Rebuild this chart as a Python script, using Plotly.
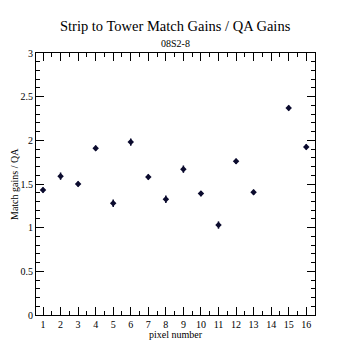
import plotly.graph_objects as go

pixels = [1, 2, 3, 4, 5, 6, 7, 8, 9, 10, 11, 12, 13, 15, 16]
ratio = [1.43, 1.59, 1.50, 1.91, 1.28, 1.98, 1.58, 1.325, 1.67, 1.39, 1.03, 1.76, 1.405, 2.37, 1.925]
errors = [0.03, 0.042, 0.03, 0.03, 0.042, 0.042, 0.03, 0.042, 0.042, 0.03, 0.042, 0.03, 0.03, 0.03, 0.03]
x_ticks = list(range(1, 17))
y_ticks = [0, 0.5, 1, 1.5, 2, 2.5, 3]
y_labels = ["0", "0.5", "1", "1.5", "2", "2.5", "3"]

FONT = "Liberation Serif"
COL = "#0b0b2e"

fig = go.Figure()
fig.add_trace(go.Scatter(
    x=pixels, y=ratio, mode="markers",
    marker=dict(symbol="diamond", size=5, color=COL),
    error_y=dict(type="data", array=errors, visible=True, color=COL, thickness=1.5, width=0),
    showlegend=False,
))

fig.update_layout(
    width=350, height=350,
    margin=dict(l=36, r=35, t=53, b=35),
    paper_bgcolor="white", plot_bgcolor="white",
    font=dict(family=FONT, color="black", size=10),
    xaxis=dict(
        range=[0.6, 16.5], tickvals=x_ticks, ticktext=[str(v) for v in x_ticks],
        ticks="inside", ticklen=8, tickwidth=1, tickcolor="black",
        showline=True, linecolor="black", linewidth=1, mirror="allticks",
        showgrid=False, zeroline=False,
        minor=dict(dtick=0.5, tick0=0.5, ticklen=4, ticks="inside", tickcolor="black", showgrid=False),
        tickfont=dict(size=10, family=FONT),
    ),
    yaxis=dict(
        range=[0, 3], tickvals=y_ticks, ticktext=y_labels,
        ticks="inside", ticklen=8, tickwidth=1, tickcolor="black",
        showline=True, linecolor="black", linewidth=1, mirror="allticks",
        showgrid=False, zeroline=False,
        minor=dict(dtick=0.1, tick0=0, ticklen=4, ticks="inside", tickcolor="black", showgrid=False),
        tickfont=dict(size=10, family=FONT),
    ),
    annotations=[
        dict(text="Strip to Tower Match Gains / QA Gains", x=0.5, y=25, xref="paper", yref="paper",
             showarrow=False, font=dict(size=14.5, family=FONT)),
        dict(text="08S2-8", x=0.5, y=0, xref="paper", yref="paper", showarrow=False,
             font=dict(size=10, family=FONT)),
        dict(text="pixel number", x=0.5, y=0, xref="paper", yref="paper", showarrow=False,
             font=dict(size=10, family=FONT)),
        dict(text="Match gains / QA", x=0, y=0.5, xref="paper", yref="paper", showarrow=False,
             textangle=-90, font=dict(size=10, family=FONT)),
    ],
)

# position annotations in pixel terms relative to plot area
ph = 350 - 53 - 35
pw = 350 - 36 - 35
anns = list(fig.layout.annotations)
anns[0].update(y=1 + (53 - 26) / ph, yanchor="middle")
anns[1].update(y=1 + (53 - 43) / ph, yanchor="middle")
anns[2].update(y=-(334 - 315) / ph, yanchor="middle")
anns[3].update(x=-(36 - 14) / pw, xanchor="center")
fig.layout.annotations = anns

fig.write_html("out.html")
